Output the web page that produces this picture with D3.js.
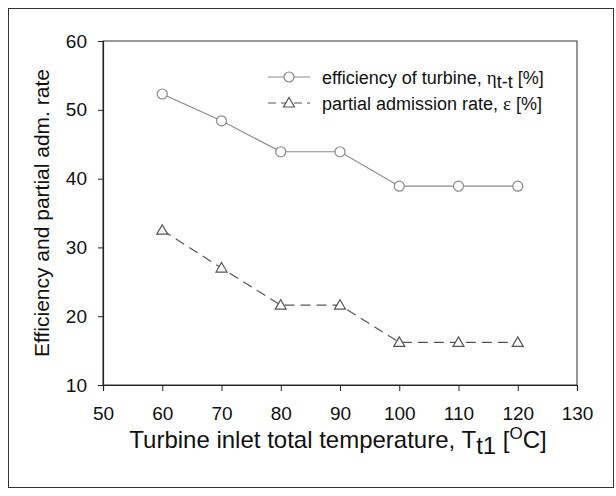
<!DOCTYPE html>
<html>
<head>
<meta charset="utf-8">
<script src="https://cdn.jsdelivr.net/npm/d3@7"></script>
<style>
  body { margin: 0; background: #fff; }
  text { font-family: "Liberation Sans", Arial, sans-serif; fill: #111; }
</style>
</head>
<body>
<svg id="chart" width="616" height="496"></svg>
<script>
var temperatures = [60, 70, 80, 90, 100, 110, 120];
var efficiency = [52.3, 48.4, 43.9, 43.9, 38.9, 38.9, 38.9];
var admissionRate = [32.5, 27.0, 21.6, 21.6, 16.2, 16.2, 16.2];
var xTicks = [50, 60, 70, 80, 90, 100, 110, 120, 130];
var yTicks = [10, 20, 30, 40, 50, 60];

var svg = d3.select("#chart");
var margin = {left: 103, top: 41, right: 39, bottom: 111};
var W = 616 - margin.left - margin.right;
var H = 496 - margin.top - margin.bottom;

// outer frame
svg.append("rect")
	.attr("x", 8.5).attr("y", 8.5)
	.attr("width", 605).attr("height", 479)
	.attr("fill", "none").attr("stroke", "#333").attr("stroke-width", 1);

var g = svg.append("g").attr("transform", "translate(" + margin.left + "," + margin.top + ")");

var x = d3.scaleLinear().domain([50, 130]).range([0, W]);
var y = d3.scaleLinear().domain([10, 60]).range([H, 0]);

// plot box
g.append("rect")
	.attr("width", W).attr("height", H)
	.attr("fill", "none").attr("stroke", "#333").attr("stroke-width", 1);

var xAxis = g.append("g")
	.attr("transform", "translate(0," + H + ")")
	.call(d3.axisBottom(x).tickValues(xTicks).tickSize(6).tickPadding(16));
var yAxis = g.append("g")
	.call(d3.axisLeft(y).tickValues(yTicks).tickSize(5).tickPadding(11));

[xAxis, yAxis].forEach(function(a) {
	a.select(".domain").attr("stroke", "#222").attr("stroke-width", 1.2);
	a.selectAll(".tick line").attr("stroke", "#222");
	a.selectAll(".tick text").style("font-size", "19px").attr("fill", "#111")
		.style("font-family", "'Liberation Sans', Arial, sans-serif");
});

var series = [
	{values: efficiency, marker: "circle", dash: null, color: "#8a8a8a"},
	{values: admissionRate, marker: "triangle", dash: "10,6", color: "#555"}
];

var line = d3.line()
	.x(function(d) { return x(d[0]); })
	.y(function(d) { return y(d[1]); });

function drawMarker(sel, type, color) {
	if (type === "circle") {
		sel.append("circle").attr("r", 5)
			.attr("fill", "#fff").attr("stroke", color).attr("stroke-width", 1.2);
	} else {
		sel.append("path").attr("d", "M0,-5.5L5.5,4L-5.5,4Z")
			.attr("fill", "#fff").attr("stroke", color).attr("stroke-width", 1.2);
	}
}

series.forEach(function(s) {
	var pts = temperatures.map(function(t, i) { return [t, s.values[i]]; });
	g.append("path").datum(pts)
		.attr("d", line)
		.attr("fill", "none")
		.attr("stroke", s.color)
		.attr("stroke-width", 1.2)
		.attr("stroke-dasharray", s.dash);
	pts.forEach(function(p) {
		var m = g.append("g").attr("transform", "translate(" + x(p[0]) + "," + y(p[1]) + ")");
		drawMarker(m, s.marker, s.color);
	});
});

// legend
var serif = "'Liberation Serif', 'Times New Roman', serif";
var legend = [
	{label: "efficiency of turbine, ", sym: "η", sub: "t-t", tail: " [%]"},
	{label: "partial admission rate, ", sym: "ε", sub: null, tail: " [%]"}
];
legend.forEach(function(l, i) {
	var ly = 36 + i * 26;
	var s = series[i];
	var lg = g.append("g").attr("transform", "translate(165," + ly + ")");
	lg.append("line").attr("x1", 0).attr("x2", 42)
		.attr("stroke", s.color).attr("stroke-width", 1.2)
		.attr("stroke-dasharray", i ? "8,5" : null);
	var m = lg.append("g").attr("transform", "translate(21,0)");
	drawMarker(m, s.marker, s.color);
	var t = lg.append("text").attr("x", 54).attr("y", 6.5).style("font-size", "18px");
	t.append("tspan").text(l.label);
	t.append("tspan").style("font-family", serif).style("font-size", "19px").text(l.sym);
	if (l.sub) {
		t.append("tspan").attr("dy", 4).text(l.sub);
		t.append("tspan").attr("dy", -4).text(l.tail);
	} else {
		t.append("tspan").text(l.tail);
	}
});

// axis titles
svg.append("text")
	.attr("transform", "translate(49," + (margin.top + H / 2) + ") rotate(-90)")
	.attr("text-anchor", "middle")
	.style("font-size", "21px")
	.text("Efficiency and partial adm. rate");

var xt = svg.append("text")
	.attr("x", 338).attr("y", 448)
	.attr("text-anchor", "middle")
	.style("font-size", "24px");
xt.append("tspan").text("Turbine inlet total temperature, T");
xt.append("tspan").attr("dy", 6).text("t1");
xt.append("tspan").attr("dy", -6).text(" [");
xt.append("tspan").attr("dy", -9).style("font-size", "17px").text("O");
xt.append("tspan").attr("dy", 9).text("C]");
</script>
</body>
</html>
